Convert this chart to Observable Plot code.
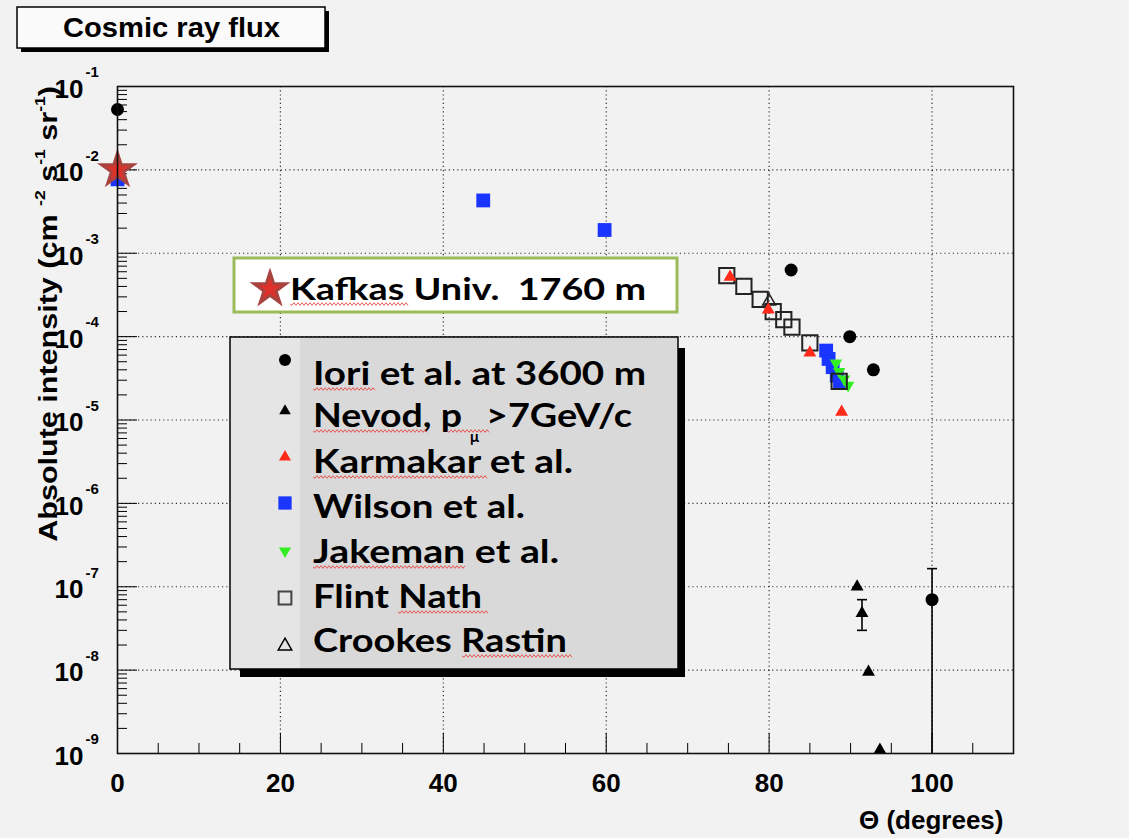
<!DOCTYPE html>
<html><head><meta charset="utf-8">
<script src="https://cdn.jsdelivr.net/npm/d3@7"></script>
<script src="https://cdn.jsdelivr.net/npm/@observablehq/plot@0.6"></script>
<style>
html,body{margin:0;padding:0;background:#f2f2f2;}
#chart svg{display:block;}
</style></head><body><div id="chart"></div>
<script>
// ---------------- data ----------------
const seriesNames = ["Iori et al. at 3600 m", "Nevod", "Karmakar et al.", "Wilson et al.", "Jakeman et al.", "Flint Nath", "Crookes Rastin"];
const kafkasLabel = "Kafkas Univ.  1760 m";
const chartTitle = "Cosmic ray flux";

const ioriTheta = [0, 82.7, 89.9, 92.8, 100];
const ioriFlux = [5.3e-2, 6.3e-4, 1.0e-4, 4.0e-5, 7.0e-8];
const ioriErrHigh = [null, null, null, null, 1.65e-7];
const ioriErrLow = [null, null, null, null, 1e-9];

const nevodTheta = [90.8, 91.4, 92.2, 93.6];
const nevodFlux = [1.0e-7, 4.8e-8, 9.5e-9, 1.1e-9];
const nevodErrHigh = [null, 7.0e-8, null, null];
const nevodErrLow = [null, 3.0e-8, null, null];

const karmakarTheta = [75.2, 79.9, 85.0, 88.9];
const karmakarFlux = [5.2e-4, 2.1e-4, 6.4e-5, 1.25e-5];

const wilsonTheta = [0, 44.9, 59.8, 87.0, 87.3, 87.8, 88.3, 88.7];
const wilsonFlux = [7.7e-3, 4.3e-3, 1.9e-3, 6.8e-5, 5.4e-5, 4.3e-5, 3.4e-5, 2.8e-5];

const jakemanTheta = [88.2, 88.6, 89.2, 89.7];
const jakemanFlux = [4.8e-5, 3.8e-5, 3.1e-5, 2.6e-5];

const flintTheta = [74.8, 76.9, 78.9, 80.5, 81.8, 82.8, 85.0, 88.6];
const flintFlux = [5.4e-4, 4.0e-4, 2.8e-4, 2.0e-4, 1.6e-4, 1.3e-4, 8.4e-5, 2.9e-5];

const crookesTheta = [80.0];
const crookesFlux = [2.65e-4];

const kafkasTheta = [0];
const kafkasFlux = [1.0e-2];

const xMajorTicks = [0, 20, 40, 60, 80, 100];
const xMinorTicks = [5, 10, 15, 25, 30, 35, 45, 50, 55, 65, 70, 75, 85, 90, 95, 105];
const yMajorTicks = [1e-9, 1e-8, 1e-7, 1e-6, 1e-5, 1e-4, 1e-3, 1e-2, 1e-1];
const yExponentLabels = ["-9", "-8", "-7", "-6", "-5", "-4", "-3", "-2", "-1"];
const yMinorMultipliers = [2, 3, 4, 5, 6, 7, 8, 9];

// ---------------- build ----------------
const rows = (xs, ys) => xs.map((x, i) => ({x, y: ys[i]}));
const errRows = (xs, lo, hi) => xs.map((x, i) => ({x, lo: lo[i], hi: hi[i]})).filter(d => d.hi != null);
const yMinorTicks = [];
yMajorTicks.slice(0, -1).forEach(d => yMinorMultipliers.forEach(m => yMinorTicks.push(d * m)));

const W = 1129, H = 838;
const fL = 117, fR = 1013, fT = 86, fB = 753;
const plotW = fR - fL, plotH = fB - fT;
const font = "'Liberation Sans', Arial, Helvetica, sans-serif";

const capSymbol = {draw(ctx, size) { const w = Math.sqrt(size / Math.PI); ctx.moveTo(-w, 0); ctx.lineTo(w, 0); }};

const iori = rows(ioriTheta, ioriFlux);
const nevod = rows(nevodTheta, nevodFlux);
const karmakar = rows(karmakarTheta, karmakarFlux);
const wilson = rows(wilsonTheta, wilsonFlux);
const jakeman = rows(jakemanTheta, jakemanFlux);
const flint = rows(flintTheta, flintFlux);
const crookes = rows(crookesTheta, crookesFlux);
const kafkas = rows(kafkasTheta, kafkasFlux);
const errs = [...errRows(ioriTheta, ioriErrLow, ioriErrHigh), ...errRows(nevodTheta, nevodErrLow, nevodErrHigh)];

const red = "#ff2a1a", blue = "#1a35ff", green = "#33ee22";

const plot = Plot.plot({
  width: W, height: H,
  marginLeft: fL, marginRight: W - fR, marginTop: fT, marginBottom: H - fB,
  style: {background: "#f2f2f2", fontFamily: font, color: "#000"},
  x: {type: "linear", domain: [0, 110], axis: null},
  y: {type: "log", domain: [1e-9, 1e-1], axis: null},
  marks: [
    // grid
    Plot.ruleX(xMajorTicks.slice(1), {stroke: "#000", strokeWidth: 1.2, strokeDasharray: "1.2,3", strokeOpacity: 0.8}),
    Plot.ruleY(yMajorTicks.slice(1, -1), {stroke: "#000", strokeWidth: 1.2, strokeDasharray: "1.2,3", strokeOpacity: 0.8}),
    // ticks
    Plot.tickY(yMinorTicks, {y: d => d, insetRight: plotW - 10, stroke: "#000", strokeWidth: 1}),
    Plot.tickY(yMajorTicks, {y: d => d, insetRight: plotW - 20, stroke: "#000", strokeWidth: 1}),
    Plot.tickX(xMinorTicks, {x: d => d, insetTop: plotH - 10, stroke: "#000", strokeWidth: 1}),
    Plot.tickX(xMajorTicks, {x: d => d, insetTop: plotH - 20, stroke: "#000", strokeWidth: 1}),
    // tick labels
    Plot.text(xMajorTicks, {x: d => d, frameAnchor: "bottom", dy: 30, text: d => String(d), fontSize: 26, fontWeight: "bold", lineAnchor: "middle"}),
    Plot.text(yMajorTicks, {y: d => d, frameAnchor: "left", dx: -34, dy: 3, text: () => "10", textAnchor: "end", fontSize: 26, fontWeight: "bold", lineAnchor: "middle"}),
    Plot.text(yMajorTicks, {y: d => d, frameAnchor: "left", dx: -32, dy: -14, text: (d, i) => yExponentLabels[i], textAnchor: "start", fontSize: 15, fontWeight: "bold", lineAnchor: "middle"}),
    Plot.text(["\u0398 (degrees)"], {frameAnchor: "bottom-right", dx: -10, dy: 67, textAnchor: "end", fontSize: 26, fontWeight: "bold", lineAnchor: "middle"}),
    // error bars
    Plot.ruleX(errs, {x: "x", y1: "lo", y2: "hi", stroke: "#000", strokeWidth: 1.6}),
    Plot.dot(errs, {x: "x", y: "hi", symbol: capSymbol, r: 5, stroke: "#000", strokeWidth: 1.6}),
    Plot.dot(errs.filter(d => d.lo > 1e-9), {x: "x", y: "lo", symbol: capSymbol, r: 5, stroke: "#000", strokeWidth: 1.6}),
    // data
    Plot.dot(iori, {x: "x", y: "y", symbol: "circle", r: 6.5, fill: "#000"}),
    Plot.dot(nevod, {x: "x", y: "y", symbol: "triangle", r: 4.8, fill: "#000"}),
    Plot.dot(wilson, {x: "x", y: "y", symbol: "square", r: 7.8, fill: blue}),
    Plot.dot(jakeman, {x: "x", y: "y", symbol: "triangle", rotate: 180, r: 4.6, fill: green}),
    Plot.dot(flint, {x: "x", y: "y", symbol: "square", r: 8.6, fill: "none", stroke: "#222", strokeWidth: 2}),
    Plot.dot(crookes, {x: "x", y: "y", symbol: "triangle", r: 4.8, fill: "none", stroke: "#222", strokeWidth: 1.5}),
    Plot.dot(karmakar, {x: "x", y: "y", symbol: "triangle", r: 4.8, fill: red}),
    Plot.dot(kafkas, {x: "x", y: "y", symbol: "star", r: 10, fill: "#e0302a", stroke: "#a8433f", strokeWidth: 3}),
    Plot.frame({stroke: "#111", strokeWidth: 1.6})
  ]
});
document.getElementById("chart").appendChild(plot);

// ---------------- annotations ----------------
const svg = d3.select(plot);
const g = svg.append("g").attr("text-anchor", "start");
const legendFont = "Lato, 'Open Sans', sans-serif";
const squig = (x1, x2, y) => {
  let d = `M${x1},${y}`;
  for (let x = x1, i = 0; x < x2; x += 2, i++) d += `L${x + 2},${y + (i % 2 ? -1.3 : 1.3)}`;
  g.append("path").attr("d", d).attr("fill", "none").attr("stroke", "#e8403a").attr("stroke-width", 1).attr("opacity", 0.85);
};
const sym = (type, r) => d3.symbol(type, Math.PI * r * r)();
const txt = (x, y, size, family, weight) => g.append("text").attr("x", x).attr("y", y).attr("text-anchor", "start")
  .attr("font-family", family).attr("font-weight", weight).attr("font-size", size).attr("fill", "#000");

// Y axis title
const yt = g.append("text").attr("transform", "translate(57,86) rotate(-90)")
  .attr("text-anchor", "end").attr("font-family", font).attr("font-weight", "bold").attr("font-size", 26).attr("fill", "#000");
yt.append("tspan").text("Absolute intensity (cm ");
yt.append("tspan").attr("font-size", 15).attr("dy", -12).text("-2");
yt.append("tspan").attr("dy", 12).text(" s");
yt.append("tspan").attr("font-size", 15).attr("dy", -12).text("-1");
yt.append("tspan").attr("dy", 12).text(" sr");
yt.append("tspan").attr("font-size", 15).attr("dy", -12).text("-1");
yt.append("tspan").attr("dy", 12).text(")");
{
  const len = yt.node().getComputedTextLength();
  const target = 456;
  if (len > 0) yt.attr("transform", `translate(57,86) rotate(-90) scale(${target / len},1)`);
}

// Title box
g.append("rect").attr("x", 21).attr("y", 11).attr("width", 308).attr("height", 41).attr("fill", "#000");
g.append("rect").attr("x", 17).attr("y", 7).attr("width", 308).attr("height", 41).attr("fill", "#fafafa").attr("stroke", "#000").attr("stroke-width", 1.5);
txt(63, 37, 27, font, "bold").attr("textLength", 217).attr("lengthAdjust", "spacingAndGlyphs").text(chartTitle);

// Kafkas box
g.append("rect").attr("x", 234).attr("y", 258).attr("width", 443).attr("height", 54).attr("fill", "#fff").attr("stroke", "#9bbb59").attr("stroke-width", 3);
g.append("path").attr("d", sym(d3.symbolStar, 10)).attr("transform", "translate(270,289)").attr("fill", "#e0302a").attr("stroke", "#a8433f").attr("stroke-width", 3);
txt(290, 300, 31, legendFont, "bold").style("white-space", "pre").attr("textLength", 356).attr("lengthAdjust", "spacingAndGlyphs").text(kafkasLabel);
squig(290, 407, 304);

// Main legend box
g.append("rect").attr("x", 240).attr("y", 348).attr("width", 445).attr("height", 329).attr("fill", "#000");
g.append("rect").attr("x", 230).attr("y", 337).attr("width", 448).attr("height", 332).attr("fill", "#d9d9d9");
g.append("rect").attr("x", 230).attr("y", 337).attr("width", 70).attr("height", 332).attr("fill", "#e5e5e5");
g.append("rect").attr("x", 230).attr("y", 337).attr("width", 448).attr("height", 332).attr("fill", "none").attr("stroke", "#000").attr("stroke-width", 1.5);

const lx = 285, tx = 313;
const legendRows = [
  {my: 360, base: 385, len: 333, shape: sym(d3.symbolCircle, 6), fill: "#000", sq: [[313, 375]]},
  {my: 411, base: 427, shape: sym(d3.symbolTriangle, 4.3), fill: "#000", sq: [[313, 427], [447, 488]]},
  {my: 457, base: 473, len: 260, shape: sym(d3.symbolTriangle, 4.5), fill: red, sq: [[313, 487]]},
  {my: 503, base: 518, len: 212, shape: sym(d3.symbolSquare, 7.5), fill: blue, sq: []},
  {my: 551, base: 563, len: 246, shape: sym(d3.symbolTriangle, 4.5), fill: green, rot: 180, sq: [[313, 465]]},
  {my: 598, base: 608, len: 169, shape: sym(d3.symbolSquare, 7.2), fill: "none", stroke: "#444", sw: 2, sq: [[398, 488]]},
  {my: 646, base: 652, len: 254, shape: sym(d3.symbolTriangle, 5), fill: "none", stroke: "#000", sw: 1.5, sq: [[462, 572]]}
];
legendRows.forEach((r, i) => {
  g.append("path").attr("d", r.shape).attr("transform", `translate(${lx},${r.my}) rotate(${r.rot || 0})`)
    .attr("fill", r.fill).attr("stroke", r.stroke || "none").attr("stroke-width", r.sw || 0);
  if (i === 1) {
    const t = txt(tx, r.base, 32, legendFont, "bold").style("white-space", "pre");
    t.append("tspan").attr("x", tx).attr("textLength", 149).attr("lengthAdjust", "spacingAndGlyphs").text("Nevod, p");
    t.append("tspan").attr("x", 470).attr("dy", 15).attr("font-size", 15).text("\u03bc");
    t.append("tspan").attr("x", 486).attr("dy", -15).attr("textLength", 146).attr("lengthAdjust", "spacingAndGlyphs").text(">7GeV/c");
  } else {
    txt(tx, r.base, 32, legendFont, "bold").attr("textLength", r.len).attr("lengthAdjust", "spacingAndGlyphs").text(seriesNames[i]);
  }
  r.sq.forEach(([a, b]) => squig(a, b, r.base + 4));
});
</script>
</body></html>
